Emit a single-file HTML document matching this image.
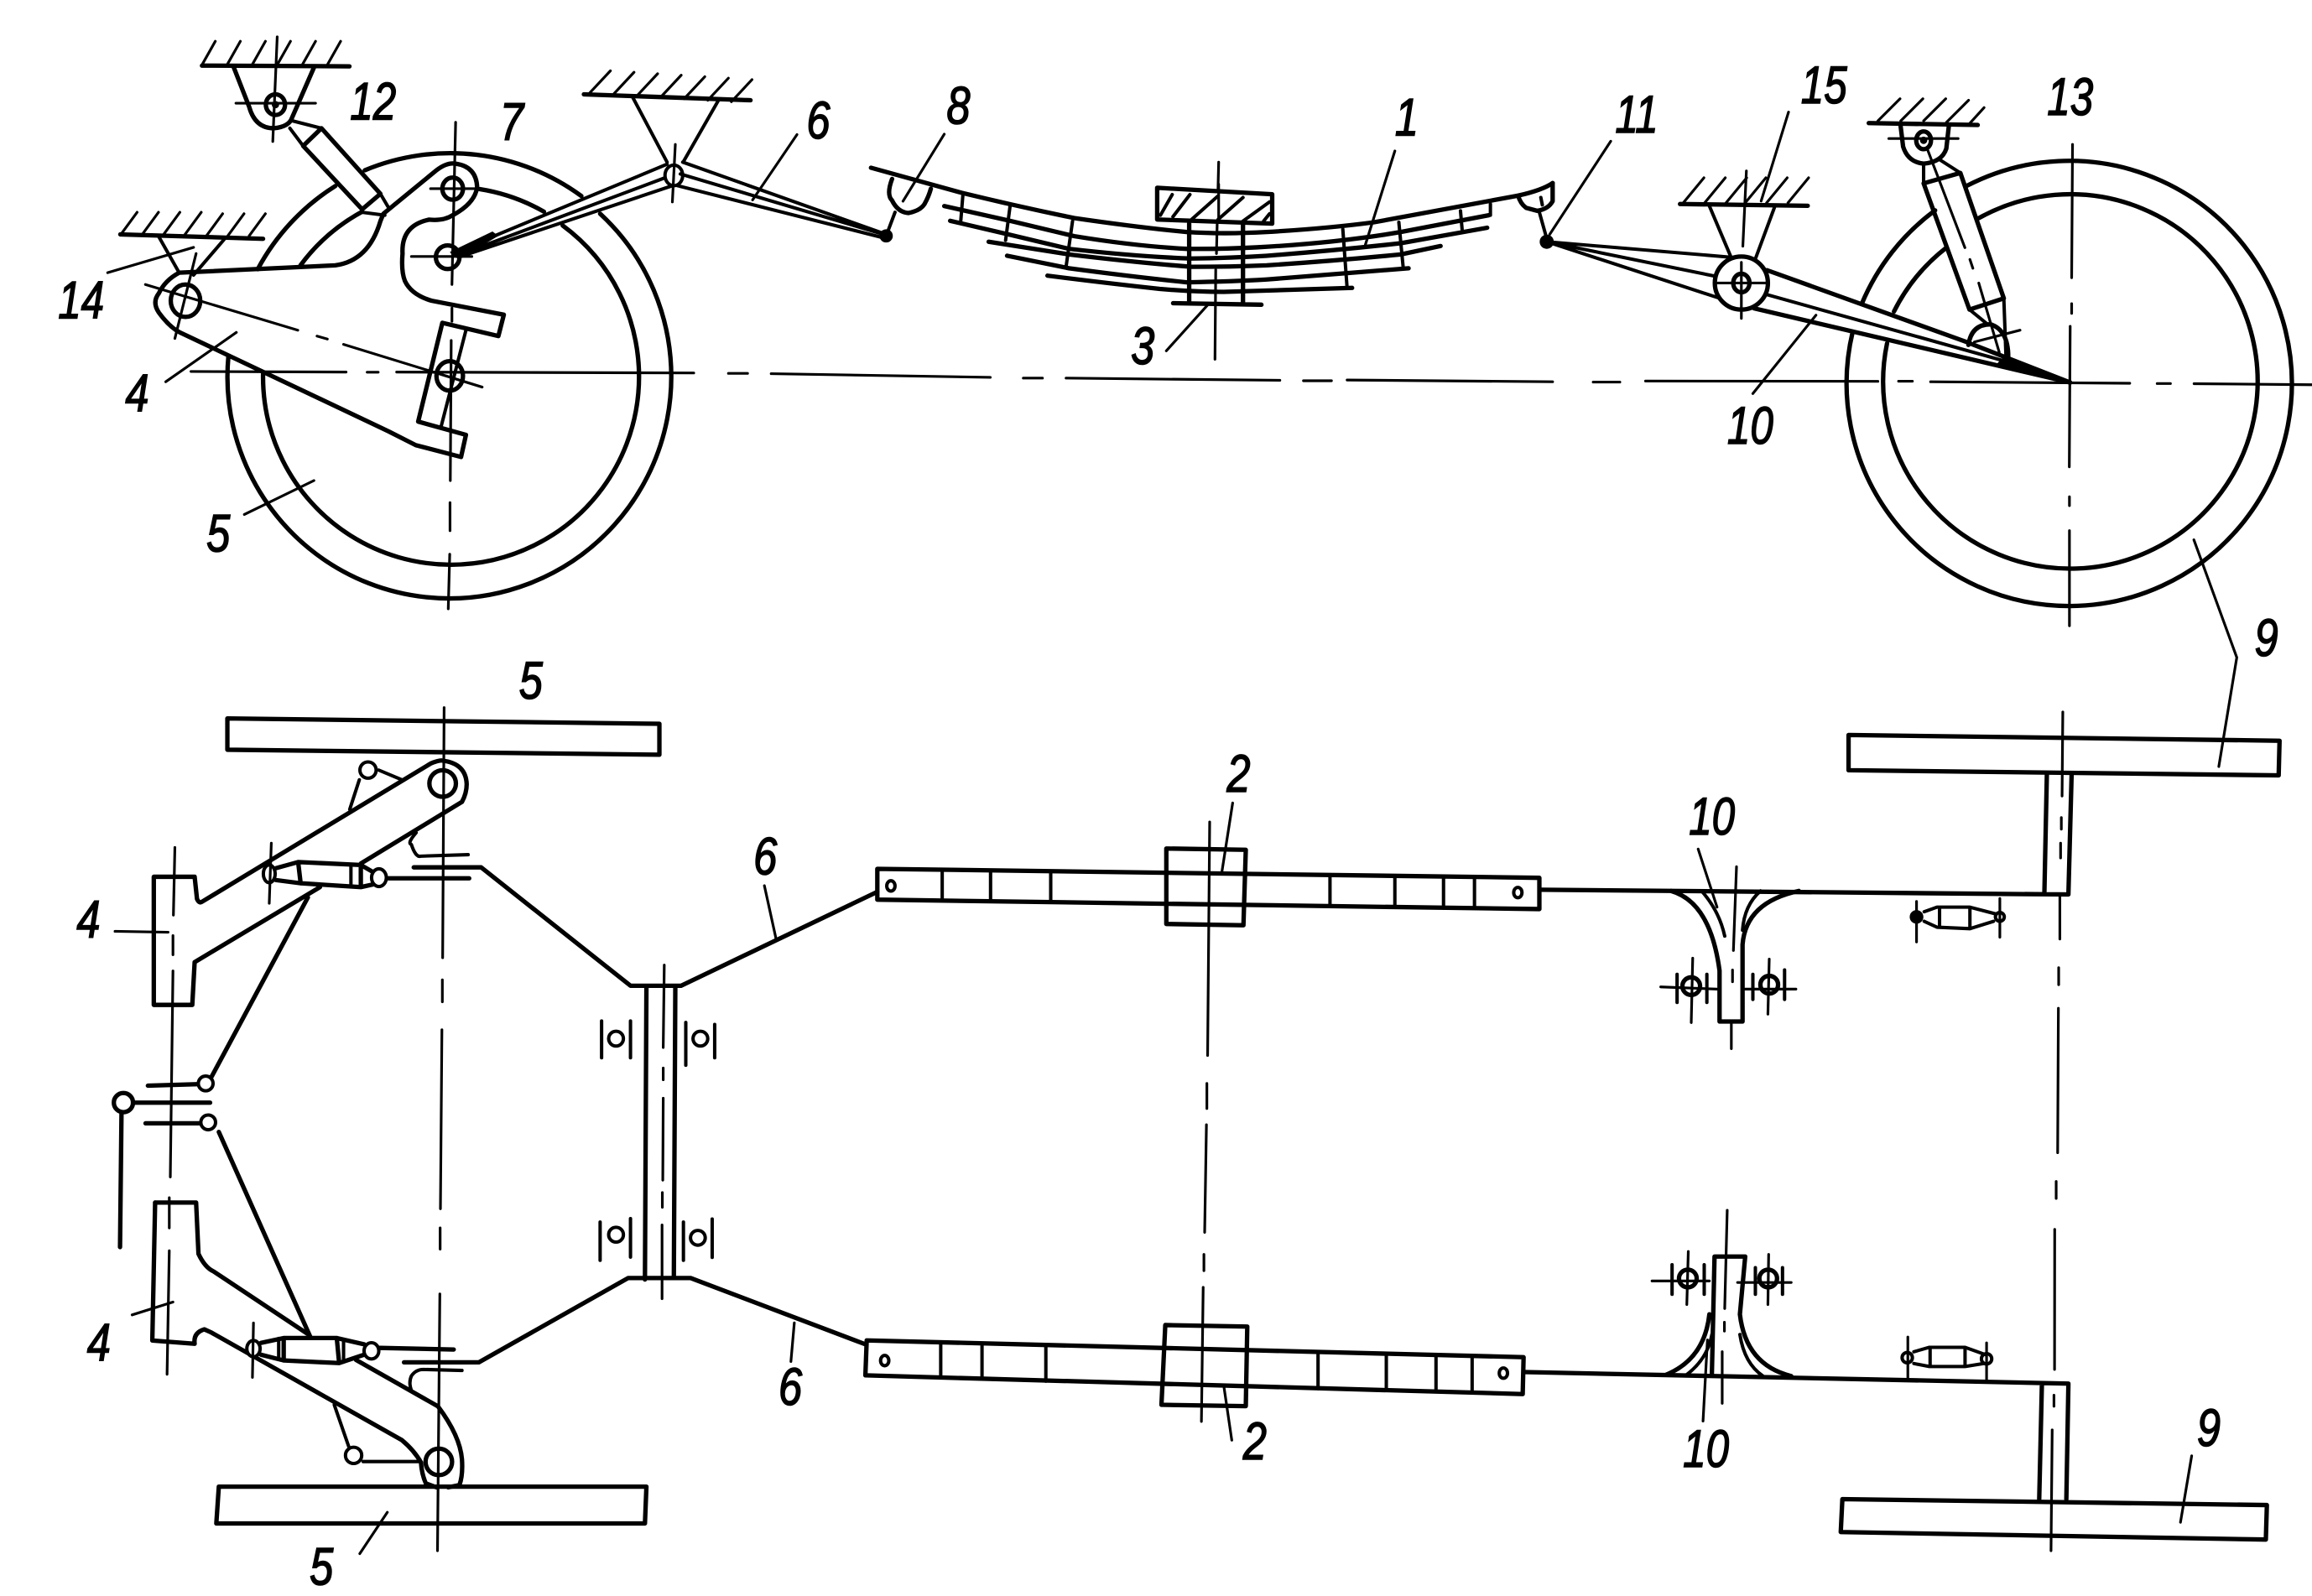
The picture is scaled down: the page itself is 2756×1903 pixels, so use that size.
<!DOCTYPE html>
<html><head><meta charset="utf-8"><title>Suspension diagram</title>
<style>
html,body{margin:0;padding:0;background:#fff}
svg{display:block}
.m{fill:none;stroke:#000;stroke-width:3;stroke-linejoin:round;stroke-linecap:round}
.s{fill:none;stroke:#000;stroke-width:2.3;stroke-linejoin:round;stroke-linecap:round}
.t{fill:none;stroke:#000;stroke-width:1.8;stroke-linecap:round;stroke-linejoin:round}
text{font-family:"Liberation Sans",sans-serif;font-style:italic;font-size:36px;fill:#000;stroke:#000;stroke-width:.9;text-anchor:middle}
</style></head><body>
<svg xmlns="http://www.w3.org/2000/svg" width="2756" height="1903" viewBox="0 0 1568 1082.7">
<rect width="1568" height="1083" fill="#fff"/>

<!-- TOP VIEW: left wheel -->
<path class="m" d="M247.4 115.5A150.5 150.5 0 0 1 394.3 133M407 145A150.5 150.5 0 1 1 154.9 241.6M174.8 182.6A150.5 150.5 0 0 1 227.4 126.2"/>
<path class="m" d="M325.4 128.3A127.5 127.5 0 0 1 368.9 143.6M381.6 153A127.5 127.5 0 1 1 178.4 253.7M203.8 180A127.5 127.5 0 0 1 245.6 143.6"/>
<!-- center lines left wheel -->
<path class="t" d="M309 83L306.5 193M306.5 209V218M306 231L305.4 326M305.2 341V360M305 376L304 413"/>
<path class="t" d="M129.5 252L234.7 252.4M249 252.5H256.5M269 252.4L470.5 253M494 253.3H507M523 253.5L671.6 256M694 256.5H707M723 256.5L868 258M884 258.3H903M913.6 257.8L1053 259M1080.5 259.2H1098.6M1116 258.5L1273.6 258.7M1287.6 258.6H1297M1309.3 259L1444.4 260M1463 260.2H1472M1488 260.3L1568 261"/>

<!-- arm 4/7 -->
<path class="m" d="M121.5 185L227.4 180Q250 177 258 150L260 145L296 115.5Q303 110 309 111Q323 113 323.6 127Q322 138 307 146Q301 150 291 149Q272 153 273 172Q272 184 274.6 190.6Q279 200 292.7 204L341.7 213.5L338 228L300 219L283.6 286L316 295L312.7 310L282 302L263.7 292.7L122 225.5Q115 222 107.7 212Q103 205 107.7 199Q112 190 121.5 185Z"/>
<path class="s" d="M316 224L299 290"/>
<ellipse class="m" cx="307" cy="128" rx="7" ry="7.5"/>
<ellipse class="m" cx="303.6" cy="174.5" rx="8" ry="8"/>
<ellipse class="m" cx="305" cy="255" rx="9" ry="10"/>
<ellipse class="m" cx="125.8" cy="204" rx="10" ry="11"/>
<path class="t" d="M292 128H322M279 174H320M133 172L118.6 229.6M98.6 193L202 224M215 228L222 230M233 233.6L327 262.6"/>

<!-- ground 14 -->
<path class="m" d="M81.6 159L178.4 162"/>
<path class="t" d="M82 159l11-15m3.5 15l11-15m3.5 15l11-15m3.500 15l11-15m3.5 16l11-15m3.5 15l11-15m3.5 15l11-15"/>
<path class="s" d="M107.7 160.6L121.5 185M152 162.4L131.3 186.6"/>
<path class="t" d="M73 185L131.3 167.8M160.3 225.5L112.4 259M212.9 326L165.7 349"/>

<!-- ground 12 and shock -->
<path class="m" d="M137 44.5L237 45"/>
<path class="t" d="M137 44l9-16m8 16l9-16m8 16l9-16m8 16l9-16m8 16l9-16m8 16l9-16"/>
<path class="m" d="M158.5 45.6L169 72.5Q173 87 185.7 87Q196 86 198 80L213 45.6"/>
<ellipse class="m" cx="186.8" cy="71" rx="6.5" ry="7"/>
<circle cx="186.8" cy="71" r="2.5"/>
<path class="t" d="M160 70L214 70M188 25L185 96"/>
<path class="m" d="M218 87L205.6 99L245.600 142L258 131.5Z"/>
<path class="s" d="M198.4 82L218 87M196.6 87L205.6 99M245.6 144L261 146M258 131.5L263 140"/>

<!-- ground and arm 6 -->
<path class="m" d="M396 64L509 68"/>
<path class="t" d="M400 63l14-15m2 16l14-15m2 16l14-15m2 16l14-15m2 16l14-15m2 16l14-15m2 16l14-15"/>
<path class="s" d="M429 65.8L452.4 110M487 68.5L463.3 110"/>
<ellipse class="s" cx="457" cy="119" rx="6" ry="7"/>
<path class="t" d="M458 98L456 137"/>
<path class="s" d="M452.4 111.4L307 171.8M450.5 120.8L311 173M456 126L311 174.5M463 110L599.3 158.4M461.4 118L599.3 159M459.6 126L598 161"/>
<path d="M305 171L334 157L338 160L311 176Z"/>
<path class="t" d="M540.5 91.3L510.4 135.6"/>

<!-- leaf spring -->
<path class="m" d="M590.7 113.8L652.3 130.8Q690 140 728.5 147.9Q770 154 804.7 157.4Q830 159 859 157.4Q900 155 931.7 150.8L1029.6 132.7Q1046 129 1053 124.2"/>
<path class="m" d="M640.4 139.8L685 149.8L728.5 160.2Q770 167 804.7 168.8Q830 169 852 167.8Q905 165 950 157.4L1009.7 146"/>
<path class="m" d="M644.4 149.8L685 159.3L725 168.8Q770 174 808 175.4Q835 175 859 173.5Q905 170 950 165L1008.6 154.5"/>
<path class="m" d="M670.5 164L725 172.6Q770 178 808 181Q835 181 859 180Q905 177 950 172.6L977 166.9"/>
<path class="m" d="M683 173.5L725 182Q770 188 804.7 191.5Q835 191 859 189.6L955.3 182"/>
<path class="m" d="M710.4 187Q750 192 786.6 196Q810 198 830 198L917 195.3"/>
<path class="m" d="M795.6 205.7L855.5 206.7M806.5 151.7V205.7M843 151.7V205.7"/>
<path class="s" d="M653 132.7L651.6 149.8M685 140L682 163M727.4 150L723 181M910.7 155.5L913.6 195.3M948.7 150.8L951.7 182M990.5 143L991.6 155.5M1010.8 138.4V146"/>
<path class="t" d="M826.500 110L825 172M824.5 183L824 243.7"/>
<path class="m" fill="#fff" style="fill:#fff" d="M784.8 127.4L862.8 131.8V151.7L784.8 148.9Z"/>
<path class="t" d="M826.5 125V150"/>
<path class="s" d="M795 132L787 146M807 132L795.5 147M826 133L808 149M843 134L826 149M861 137L843 150M861 145L857 150"/>
<path class="t" d="M946 102.4L926 166M819.2 206.7L791 238M640.4 91L612.4 136.5M1092.4 95.8L1051 159"/>
<path class="m" d="M605 121.4Q601 132 605 136Q609 144 616 144.5Q624 143 627 138.4Q630 133 631.3 128"/>
<path class="m" d="M1029.6 132.7Q1031 138 1035 141L1042.4 143Q1050 142 1053 136.5L1053 124.2"/>
<path class="s" d="M607 144L601 160M1044 144L1049.6 164M1045 134L1046 139"/>
<circle cx="601" cy="160" r="4.5"/><circle cx="1049" cy="164" r="4.8"/>

<!-- right side: 10, 15 -->
<path class="m" d="M1139.4 138.4L1226 139.6"/>
<path class="t" d="M1141.6 137.6l14-17m.5 17l14-17m.5 17l14-17m-1 17l14-17m.5 17l14-17m.5 17l14-17"/>
<path class="s" d="M1159 139L1174 174.5M1203.7 140L1190 177"/>
<path class="t" d="M1213 76L1194.4 136.4M1184.4 116L1182 167"/>
<path class="s" d="M1049 164L1174 174.5M1049 164L1162.4 187.2M1049 164L1165 201.9"/>
<path class="m" d="M1198.4 183.3L1332.6 231.6L1404 259.5"/>
<path class="s" d="M1198.4 199.9L1357.4 244.3"/>
<path class="m" d="M1189.7 209.2L1404 259.5"/>
<path d="M1359 241.8L1404 259.5L1354.3 246.8Z"/>
<circle class="m" style="fill:#fff" cx="1181" cy="192" r="18"/>
<ellipse class="m" cx="1181" cy="192" rx="5.5" ry="6.3"/>
<path class="t" d="M1165 192H1199M1181 178V216"/>
<path class="t" d="M1231.6 213.8L1188.8 267"/>

<!-- right wheel -->
<path class="m" d="M1334 126A151 151 0 1 1 1256.5 225M1262.7 206A151 151 0 0 1 1312.4 142.7"/>
<path class="m" d="M1342 148A127 127 0 1 1 1279.8 232.9M1284.5 211.3A127 127 0 0 1 1320 168"/>
<path class="t" d="M1405.6 98L1405 188.4M1405 206V212.6M1404 221.4L1403.4 316.7M1403.5 337V343M1403.5 360V424.5"/>
<path class="t" d="M1487.9 366.2L1517 446L1504.8 520"/>

<!-- shock 13 -->
<path class="m" d="M1267.4 83.5L1341.3 84.8"/>
<path class="t" d="M1273.6 82l15-15m.5 15l15-15m.5 15l15-15m.5 16l15-15m.5 16l10-11"/>
<path class="m" d="M1289 85.5L1290.7 99.5Q1294 110 1304.6 111Q1317 110 1320 100.8L1321.7 85.5"/>
<ellipse class="m" cx="1304.6" cy="95.2" rx="5" ry="6"/>
<circle cx="1304.6" cy="95.2" r="2.5"/>
<path class="t" d="M1281 94H1328"/>
<path class="m" d="M1304.6 124.4L1329.5 117.3L1359 202.4L1335.7 210Z"/>
<path class="s" d="M1304.6 111V124.4M1315 108L1329.5 117.3M1335.7 210L1348 220M1359 202.4L1360.5 243"/>
<path class="t" d="M1307 100.8L1332.6 168M1336 176L1338 182M1342 192L1355.9 239M1339 232L1370 224"/>
<path class="m" d="M1335 234Q1337 220 1350 220Q1362 224 1362 242"/>

<!-- PLAN VIEW tyres -->
<path class="m" d="M154.2 487.4L447.2 491V512L154.2 508.6Z"/>
<path class="m" d="M148.4 1008.5H438.4L437.4 1033.5H146.7Z"/>
<path class="m" d="M1253.7 498.6L1546 502.5L1545.4 526L1253.7 522.5Z"/>
<path class="m" d="M1249.5 1017L1537.4 1021L1536.7 1044.4L1248.4 1039.3Z"/>

<!-- plan center lines -->
<path class="t" d="M301.2 480L300.2 649.7M300 664.7V679.6M299.7 698.6L298.7 820M298.5 833V847.4M298.3 877.8L296.7 1052"/>
<path class="t" d="M118.6 574.9L117.6 620.8M117.3 634.7V647.7M117.3 658.7L115.5 798.4M114.8 812.5V833M114.8 848.5L113.3 932.3"/>
<path class="t" d="M450.5 654.7L449.8 710.6M449.8 724.5V732.5M449.8 745L449.5 800.6M449.2 809V819M449 831V881"/>
<path class="t" d="M820.4 557.6L819 716M818.5 735V752M818.2 763L817 836M816.5 851V862M816 873.3L814.8 964.3"/>
<path class="t" d="M1399 483L1398.5 540M1398 554.6V562.5M1397.5 572V582M1397 607.5V637M1396.2 656.5V668M1396 684L1395.5 782M1394.5 801.5V813M1393.5 834L1393.4 929M1393 946.5V954M1391.8 970L1391 1052"/>

<!-- upper left plan -->
<path class="m" d="M132 652.7L130.4 681.7H104.3V594.8H132L133.6 609.8Q135 613 136.9 611.8L292 518Q298 515.5 300.2 516Q316 518 316.5 532Q316.5 538 313.3 544L244.7 585.8M217 601.8L132 652.7"/>
<ellipse class="m" cx="300.2" cy="531.5" rx="9" ry="9"/>
<path class="t" d="M78 631.8L114 632.4"/>
<ellipse class="s" style="fill:#fff" cx="182.6" cy="592.8" rx="4" ry="6"/>
<path class="t" d="M184 572L182.6 612.8"/>
<path class="m" d="M202.2 584.8L244.7 586.8V601.8L203.9 599.2ZM187 589L202.2 584.8M187 597L203.9 599.2M244.7 586.8L252 591M244.7 601.8L253 600"/>
<ellipse class="s" style="fill:#fff" cx="257" cy="595.4" rx="5" ry="6"/>
<path class="s" d="M238 587V601"/>
<path class="m" d="M262.6 595.8H318.2M280.6 588.4H326.3L427.6 668.7H461.9L595 605"/>
<path class="s" d="M282.2 564.9Q276 572 279 572.9Q282 582 285.5 580.8L317.5 579.8"/>
<circle class="s" style="fill:#fff" cx="249.6" cy="522.4" r="5.5"/>
<path class="s" d="M256.8 522.4L272.5 529M243.7 529L237.2 549"/>
<path class="m" d="M208.8 608.8L143.4 730.6"/>
<circle class="s" style="fill:#fff" cx="139.5" cy="735" r="5"/>
<path class="m" d="M100.3 736.5L133.6 735.5M91 748H142.5M98.7 762H135M82.4 755L81.4 846"/>
<circle class="m" style="fill:#fff" cx="83.7" cy="748" r="6.5"/>
<circle class="s" style="fill:#fff" cx="141.2" cy="761.4" r="5"/>

<!-- lower left plan -->
<path class="m" d="M105.2 815.8H133L134.6 850.6Q139 860 145 862.6L208.8 905"/>
<path class="m" d="M105.2 815.8L103.3 909.4L132 911.6Q131 904 138.6 901.8L143.4 904L272.5 976.9Q281 984 285.5 992.1Q286 1000 288.8 1006.3L296 1009"/>
<path class="m" d="M241.4 922.5L297 954Q312 974 313.3 990Q314 1001 311.6 1007.4L304 1009"/>
<ellipse class="m" cx="297.6" cy="991.7" rx="9" ry="9"/>
<path class="m" d="M148.4 767.9L210.4 906.8"/>
<path class="m" d="M192.4 907.7L228.4 907.7L230 924.7L192.4 922.9ZM177 911L192.4 907.7M177 919L192.4 922.9M228.4 907.7L247 912M230 924.7L247 919"/>
<path class="s" d="M189 908V922M233 909V924"/>
<ellipse class="s" style="fill:#fff" cx="171.9" cy="914.9" rx="4.5" ry="5.5"/>
<ellipse class="s" style="fill:#fff" cx="251.9" cy="916.4" rx="5" ry="5.5"/>
<path class="t" d="M171.9 897.5L171.2 934.4"/>
<path class="m" d="M257.8 914.4L307.7 915.5M274 924.2H324.7L426 867H468.4L587 912"/>
<path class="s" d="M279 943.2Q277 938 279 933.4Q282 929 287.2 929L313.3 929.7"/>
<circle class="s" style="fill:#fff" cx="239.8" cy="987.3" r="5.5"/>
<path class="s" d="M226.7 953L236.5 981.3M246.3 991.5H283.9"/>
<path class="t" d="M262.7 1025.9L244 1054M89.6 892L117.3 883.3M538.7 897.4L536.4 923.6M518.4 600.8L526.5 637.7"/>

<!-- bar and bearings -->
<path class="m" d="M438.4 669.7L437.4 868M458 669.7L457 867"/>
<path class="s" d="M408 692.6V717.6M427.6 692.6V717.6M465.1 693.6V722.6M484.7 695V717.6M407 829V855M427.6 826.7V852.8M463.5 829V855M483 827V853"/>
<circle class="s" cx="417.8" cy="704.6" r="5"/><circle class="s" cx="475" cy="704.6" r="5"/>
<circle class="s" cx="417.8" cy="837.6" r="5"/><circle class="s" cx="473.3" cy="839.7" r="5"/>

<!-- spring plan views -->
<path class="m" d="M595 589.4L1044 595.5V616.7L595 610.3Z"/>
<path class="s" d="M639 590V610.9M671.8 590.5V611.3M712.6 591V612M902 593.5V615M946 594V615.5M979 594.5V616M1000 595V616"/>
<path class="m" d="M791 575.6L844.9 576.5L843.3 627.7L791 626.8Z"/>
<ellipse class="s" cx="604.2" cy="601" rx="2.8" ry="3.5"/>
<ellipse class="s" cx="1029.4" cy="605.5" rx="2.8" ry="3.5"/>
<path class="t" d="M836 544.7L828.5 592.7"/>
<path class="m" d="M587.8 909.3L1033.3 920.7L1032.7 945.7L586.9 933Z"/>
<path class="s" d="M638 911V934.5M666 911.5V935M709.3 912.5V937M893.9 917V942M940.2 918V943M973.9 919V944M998.4 919.5V945"/>
<path class="m" d="M790.3 898.9L845.9 899.9L844.9 953.9L787.7 953Z"/>
<ellipse class="s" cx="600" cy="923" rx="2.8" ry="3.5"/>
<ellipse class="s" cx="1019.6" cy="931.5" rx="2.8" ry="3.5"/>
<path class="t" d="M830.2 941.6L835.4 977"/>

<!-- frame right -->
<path class="m" d="M1044.8 603.6L1402.8 606.8L1405 524.5M1388.2 524.5L1386.5 606.4"/>
<path class="m" d="M1034.4 930.8L1402.8 938.6L1401.4 1017M1384.8 939.8L1383 1017"/>
<path class="m" d="M1133.3 604.4Q1160 612 1166.2 658.5V693H1181.800V640.8Q1184 612 1220 604.4"/>
<path class="s" d="M1154 604.4Q1166 618 1169.7 635M1194 604.4Q1183 614 1181.8 631"/>
<path class="t" d="M1177.7 588L1175.6 644.8M1175 658V666M1174.2 693.7V711.4M1151.7 576L1164.5 615.4"/>
<path class="m" d="M1129.800 932.7Q1156 922 1159.3 891.6M1214.8 933.5Q1184 926 1180 891.6L1183.6 852.4H1162.8L1161 932"/>
<path class="s" d="M1143.7 932.7Q1158 922 1161 905.3M1195.7 933.5Q1183 925 1180 905.3"/>
<path class="t" d="M1171.4 821L1169.7 887.7M1169.5 897V903M1168 917L1168 952M1158 909L1155 964"/>
<!-- bolts -->
<circle class="m" cx="1147" cy="669" r="6"/><circle class="m" cx="1199.9" cy="668" r="6"/>
<circle class="m" cx="1144.7" cy="867.3" r="6"/><circle class="m" cx="1199.2" cy="867.3" r="6"/>
<path class="t" d="M1126.3 669.5L1164.5 671M1148 650L1147 693.7M1183.6 671H1218M1199.9 650.6L1199 688M1120.4 869H1159.3M1145 849L1144 885M1178.4 870H1214.8M1199.5 851L1199 885"/>
<path class="s" d="M1137.4 661V680M1157.6 661V680M1188.8 661V678M1210.3 658V678M1134 858V878M1155.8 858V878M1190.5 860V878M1208.9 860V878"/>
<!-- small shocks -->
<path class="s" d="M1305 618.5L1313.7 615.4H1336L1353.6 620M1305 625L1313.7 629L1336 630L1352 625M1315.4 616V629M1336 616V630"/>
<circle class="s" style="fill:#000" cx="1299.8" cy="622" r="3.5"/><circle class="s" cx="1356.3" cy="622" r="3"/>
<path class="t" d="M1299.8 611.5V639M1356.3 609.5V635.8"/>
<path class="s" d="M1298 917L1308.5 914H1332.700L1346.6 919M1298 925L1308.5 927H1332.7L1345 925M1309 914V927M1332.7 914V927"/>
<circle class="s" cx="1293.5" cy="921" r="3.5"/><circle class="s" cx="1347.3" cy="921.8" r="3.5"/>
<path class="t" d="M1293.9 907V936.6M1347.3 911V936.6"/>
<path class="t" d="M1486.4 987.6L1478.8 1032.7"/>

<!-- labels -->
<text transform="translate(253 81) scale(.78 1)">12</text>
<text transform="translate(347 95) scale(.8 1)">7</text>
<text transform="translate(555 94) scale(.8 1)">6</text>
<text transform="translate(650 84) scale(.8 1)">8</text>
<text transform="translate(954 92) scale(.8 1)">1</text>
<text transform="translate(1110 90) scale(.78 1)">11</text>
<text transform="translate(1237 70) scale(.78 1)">15</text>
<text transform="translate(1404 78) scale(.78 1)">13</text>
<text transform="translate(55 216) scale(.78 1)">14</text>
<text transform="translate(93 279) scale(.8 1)">4</text>
<text transform="translate(148 374) scale(.8 1)">5</text>
<text transform="translate(775 247) scale(.8 1)">3</text>
<text transform="translate(1187 301) scale(.78 1)">10</text>
<text transform="translate(1537 445) scale(.8 1)">9</text>
<text transform="translate(360 474) scale(.8 1)">5</text>
<text transform="translate(519 593) scale(.8 1)">6</text>
<text transform="translate(840 537) scale(.8 1)">2</text>
<text transform="translate(1161 566) scale(.78 1)">10</text>
<text transform="translate(60 636) scale(.8 1)">4</text>
<text transform="translate(67 923) scale(.8 1)">4</text>
<text transform="translate(536 953) scale(.8 1)">6</text>
<text transform="translate(851 990) scale(.8 1)">2</text>
<text transform="translate(1157 995) scale(.78 1)">10</text>
<text transform="translate(1498 981) scale(.8 1)">9</text>
<text transform="translate(218 1075) scale(.8 1)">5</text>
</svg>
</body></html>
